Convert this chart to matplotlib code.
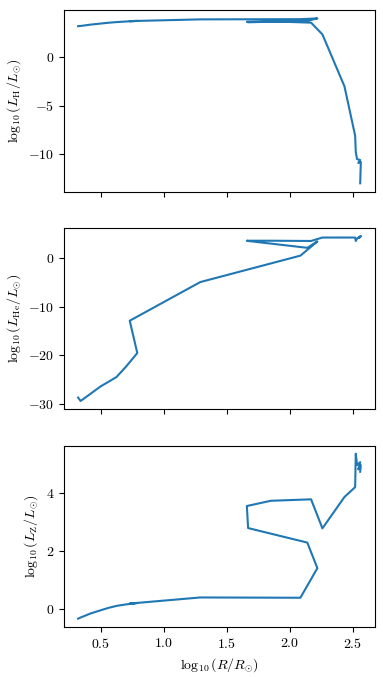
import matplotlib
matplotlib.use("Agg")
import matplotlib.pyplot as plt

# Computer Modern look
plt.rcParams['font.family'] = 'serif'
plt.rcParams['font.serif'] = ['cmr10']
plt.rcParams['mathtext.fontset'] = 'cm'
plt.rcParams['axes.formatter.use_mathtext'] = True
plt.rcParams['axes.unicode_minus'] = True

# evolutionary track: log10 radius (shared) and log10 luminosities
log_r = [0.32, 0.34, 0.42, 0.50, 0.56, 0.625, 0.70, 0.79, 0.73, 1.29,
         2.085, 2.22, 2.14, 1.67, 1.66, 1.85, 2.17, 2.26, 2.435, 2.52,
         2.525, 2.535, 2.56, 2.545, 2.565, 2.56]
log_lh = [3.20, 3.22, 3.36, 3.47, 3.55, 3.62, 3.68, 3.74, 3.72, 3.90,
          3.92, 4.00, 3.75, 3.60, 3.65, 3.70, 3.56, 2.35, -3.0, -8.1,
          -9.8, -10.5, -10.6, -10.9, -10.8, -13.0]
log_lhe = [-28.6, -29.3, -27.8, -26.3, -25.4, -24.4, -22.3, -19.5, -12.9, -5.0,
           0.4, 3.3, 2.0, 3.4, 3.45, 3.45, 3.4, 4.1, 4.1, 4.1,
           3.4, 3.9, 4.3, 4.0, 4.4, 4.2]
log_lz = [-0.34, -0.30, -0.16, -0.05, 0.03, 0.10, 0.15, 0.20, 0.18, 0.39,
          0.38, 1.40, 2.28, 2.78, 3.54, 3.72, 3.77, 2.77, 3.85, 4.19,
          5.34, 4.95, 5.05, 4.80, 4.95, 4.72]

fig, axes = plt.subplots(3, 1, figsize=(3.83, 6.77), sharex=True)
fig.subplots_adjust(left=0.167, right=0.979, top=0.985, bottom=0.074, hspace=0.2)

axes[0].plot(log_r, log_lh, color='tab:blue')
axes[0].set_ylabel(r'$\log_{10}(L_{\rm H}/L_{\odot})$')

axes[1].plot(log_r, log_lhe, color='tab:blue')
axes[1].set_ylabel(r'$\log_{10}(L_{\rm He}/L_{\odot})$')

axes[2].plot(log_r, log_lz, color='tab:blue')
axes[2].set_ylabel(r'$\log_{10}(L_{\rm Z}/L_{\odot})$')
axes[2].set_xlabel(r'$\log_{10}(R/R_{\odot})$')

fig.savefig('out.png', dpi=100)
